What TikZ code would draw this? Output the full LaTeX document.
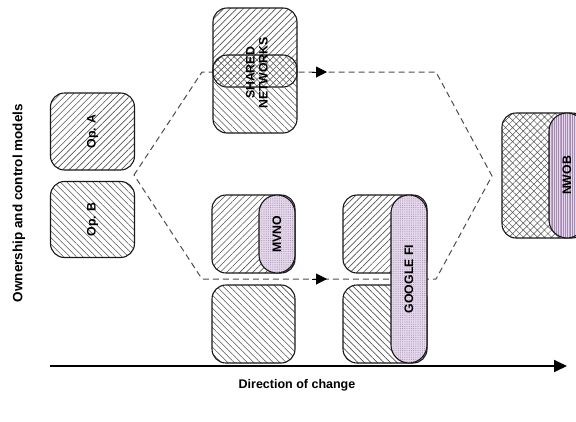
\documentclass[tikz,border=0pt]{standalone}
\usepackage{fontspec}
\setmainfont{Liberation Sans}
\usetikzlibrary{patterns.meta,arrows.meta}
\definecolor{hatchgray}{HTML}{555555}
\definecolor{lav}{HTML}{E4D9EA}
\definecolor{lavdark}{HTML}{9673A6}
\tikzset{
  boxbase/.style={draw=black!90, line width=1.1pt, rounded corners=14pt, inner sep=0pt},
  hatchne/.style={boxbase, preaction={fill=white}, pattern={Lines[angle=45,distance=4.6pt,line width=0.6pt]}, pattern color=hatchgray},
  hatchnw/.style={boxbase, preaction={fill=white}, pattern={Lines[angle=-45,distance=4.6pt,line width=0.6pt]}, pattern color=hatchgray},
  hatchnwclear/.style={boxbase, pattern={Lines[angle=-45,distance=4.6pt,line width=0.6pt]}, pattern color=hatchgray},
  crossbox/.style={boxbase, preaction={fill=white}, pattern={Hatch[angle=45,distance=5pt,line width=0.5pt]}, pattern color=hatchgray},
  pilldots/.style={draw=black!90, line width=1.1pt, rounded corners=18pt, inner sep=0pt, minimum width=36pt, preaction={fill=lav}, pattern={Dots[distance=2.2pt,radius=0.55pt]}, pattern color=lavdark!80},
  pilllines/.style={draw=black!90, line width=1.1pt, rounded corners=18pt, inner sep=0pt, minimum width=36pt, preaction={fill=lav}, pattern={Lines[angle=90,distance=1.8pt,line width=0.35pt]}, pattern color=lavdark!85},
  lbl/.style={font=\fontsize{12.3}{13}\selectfont\bfseries, rotate=90, align=center, inner sep=0pt},
  axlbl/.style={font=\fontsize{12.5}{14}\selectfont\bfseries, inner sep=0pt},
  path/.style={draw=black!70, line width=1pt, dash pattern=on 6pt off 4pt},
  pathtip/.style={-{Triangle[length=11pt,width=11pt]}, line width=1pt, black},
}
\begin{document}
\begin{tikzpicture}[x=1pt,y=-1pt]
\useasboundingbox (0,0) rectangle (576,421);
% dashed path of change
\coordinate (hl) at (134,175);
\coordinate (htl) at (202,72);
\coordinate (htr) at (436,72);
\coordinate (hr) at (492,176);
\coordinate (hbr) at (436,279);
\coordinate (hbl) at (202,279);
\draw[path] (hl) -- (htl) -- (htr) -- (hr) -- (hbr) -- (hbl) -- cycle;
\coordinate (ta0) at (312,72); \coordinate (ta1) at (327,72);
\coordinate (ba0) at (312,279); \coordinate (ba1) at (327,279);
\draw[pathtip] (ta0) -- (ta1);
\draw[pathtip] (ba0) -- (ba1);

% operators
\node[hatchne, minimum width=84pt, minimum height=77pt] (opa) at (92.5,131.5) {};
\node[lbl] (opal) at (opa.center) {Op. A};
\node[hatchnw, minimum width=84pt, minimum height=76pt] (opb) at (92.5,219.5) {};
\node[lbl] (opbl) at (opb.center) {Op. B};

% shared networks
\node[hatchne, minimum width=84pt, minimum height=79pt] (sn1) at (255,47.5) {};
\node[hatchnwclear, minimum width=84pt, minimum height=78pt] (sn2) at (255,94) {};
\node[lbl] (snl) at (257,73) {SHARED\\NETWORKS};

% MVNO
\node[hatchne, minimum width=83pt, minimum height=78pt] (m1) at (253.5,234) {};
\node[pilldots, minimum height=78pt] (mv) at (277,234) {};
\node[lbl] (mvl) at (mv.center) {MVNO};
\node[hatchnw, minimum width=83pt, minimum height=78pt] (m2) at (253.5,324) {};

% Google Fi
\node[hatchne, minimum width=84pt, minimum height=78pt] (g1) at (385,234) {};
\node[hatchnw, minimum width=84pt, minimum height=78pt] (g2) at (385,324) {};
\node[pilldots, minimum height=168pt] (gf) at (409,279) {};
\node[lbl] (gfl) at (gf.center) {GOOGLE FI};

% NWOB
\node[crossbox, minimum width=84pt, minimum height=125pt] (nb) at (544,175.5) {};
\node[pilllines, minimum height=125pt] (np) at (567,175.5) {};
\node[lbl] (npl) at (np.center) {NWOB};

% axes
\coordinate (ax0) at (50,366);
\coordinate (ax1) at (567,366);
\draw[line width=1.8pt, -{Triangle[length=13pt,width=12pt]}] (ax0) -- (ax1);
\node[axlbl] (dir) at (297,385) {Direction of change};
\node[axlbl, font=\fontsize{13.5}{15}\selectfont\bfseries, rotate=90] (own) at (19,203) {Ownership and control models};
\end{tikzpicture}
\end{document}
